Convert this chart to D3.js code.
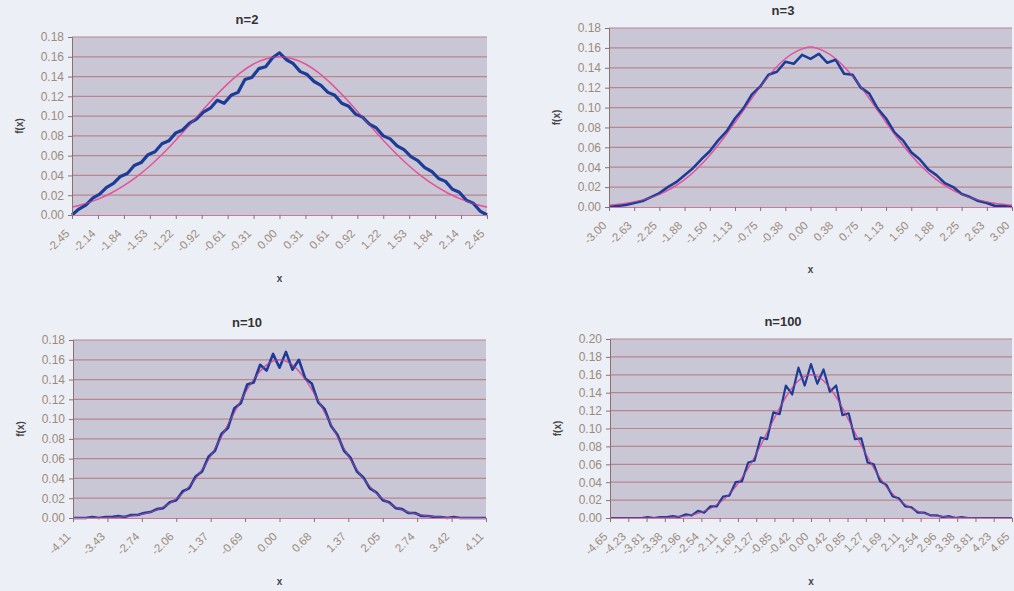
<!DOCTYPE html>
<html>
<head>
<meta charset="utf-8">
<script src="https://cdn.jsdelivr.net/npm/d3@7"></script>
<style>
  body { margin: 0; background: #edeff7; }
  svg { display: block; font-family: "Liberation Sans", Arial, sans-serif; }
</style>
</head>
<body>
<svg id="chart" width="1014" height="591"></svg>
<script>
// tick labels of each category axis
const labels2 = ["-2.45","-2.14","-1.84","-1.53","-1.22","-0.92","-0.61","-0.31","0.00","0.31","0.61","0.92","1.22","1.53","1.84","2.14","2.45"];
const labels3 = ["-3.00","-2.63","-2.25","-1.88","-1.50","-1.13","-0.75","-0.38","0.00","0.38","0.75","1.13","1.50","1.88","2.25","2.63","3.00"];
const labels10 = ["-4.11","-3.43","-2.74","-2.06","-1.37","-0.69","0.00","0.68","1.37","2.05","2.74","3.42","4.11"];
const labels100 = ["-4.65","-4.23","-3.81","-3.38","-2.96","-2.54","-2.11","-1.69","-1.27","-0.85","-0.42","0.00","0.42","0.85","1.27","1.69","2.11","2.54","2.96","3.38","3.81","4.23","4.65"];

// simulated f(x) (evenly spaced along the axis)
const sim2 = [0.000,0.006,0.010,0.017,0.021,0.028,0.032,0.039,0.042,0.050,0.053,0.061,0.064,0.072,0.075,0.083,0.086,0.093,0.097,0.104,0.108,0.116,0.113,0.121,0.124,0.137,0.139,0.148,0.150,0.159,0.164,
  0.157,0.153,0.145,0.142,0.135,0.131,0.124,0.121,0.113,0.110,0.102,0.099,0.092,0.088,0.080,0.077,0.070,0.066,0.059,0.055,0.048,0.044,0.037,0.034,0.026,0.023,0.015,0.012,0.004,0.000];
const sim3 = [0.000,0.001,0.002,0.004,0.006,0.010,0.014,0.020,0.025,0.032,0.039,0.048,0.056,0.067,0.076,0.089,0.099,0.113,0.121,0.133,0.136,0.146,0.144,0.153,0.149,
  0.154,0.145,0.148,0.134,0.133,0.120,0.114,0.099,0.089,0.075,0.067,0.055,0.048,0.038,0.032,0.024,0.020,0.013,0.010,0.006,0.004,0.001,0.001,0.000];
const sim10 = [0.000,0.000,0.000,0.001,0.000,0.001,0.001,0.002,0.001,0.003,0.003,0.005,0.006,0.009,0.010,0.016,0.018,0.027,0.030,0.042,0.047,0.062,0.068,0.085,0.091,0.111,0.116,0.135,0.137,0.155,0.149,0.166,0.152,
  0.168,0.150,0.160,0.141,0.136,0.117,0.110,0.093,0.084,0.068,0.061,0.047,0.041,0.030,0.026,0.018,0.016,0.010,0.009,0.005,0.005,0.002,0.002,0.001,0.001,0.000,0.001,0.000,0.000,0.000,0.000,0.000];
const sim100 = [0.000,0.000,0.000,0.000,0.000,0.000,0.001,0.000,0.001,0.001,0.002,0.001,0.004,0.003,0.008,0.006,0.013,0.013,0.024,0.025,0.040,0.041,0.062,0.064,0.090,0.088,0.118,0.116,0.148,0.138,0.168,0.148,0.172,
  0.150,0.166,0.141,0.148,0.115,0.117,0.088,0.089,0.062,0.060,0.041,0.037,0.024,0.022,0.013,0.012,0.006,0.006,0.003,0.003,0.001,0.002,0.000,0.001,0.000,0.000,0.000,0.000,0.000,0.000,0.000,0.000];

// normal curve
const norm2 = [0.0080,0.0114,0.0161,0.0220,0.0296,0.0388,0.0496,0.0619,0.0756,0.0901,0.1049,0.1193,0.1326,0.1440,0.1527,0.1581,0.1600,
  0.1581,0.1527,0.1440,0.1326,0.1193,0.1049,0.0901,0.0756,0.0619,0.0496,0.0388,0.0296,0.0220,0.0161,0.0114,0.0080];
const norm3 = [0.0018,0.0031,0.0051,0.0082,0.0127,0.0191,0.0276,0.0385,0.0520,0.0676,0.0850,0.1031,0.1208,0.1366,0.1491,0.1572,0.1610,
  0.1572,0.1491,0.1366,0.1208,0.1031,0.0850,0.0676,0.0520,0.0385,0.0276,0.0191,0.0127,0.0082,0.0051,0.0031,0.0018];
const norm10 = [0.0000,0.0001,0.0002,0.0006,0.0014,0.0030,0.0059,0.0111,0.0194,0.0318,0.0488,0.0702,0.0944,0.1188,0.1402,0.1548,0.1600,
  0.1548,0.1402,0.1188,0.0944,0.0702,0.0488,0.0318,0.0194,0.0111,0.0059,0.0030,0.0014,0.0006,0.0002,0.0001,0.0000];
const norm100 = [0.0000,0.0000,0.0000,0.0001,0.0004,0.0010,0.0023,0.0052,0.0107,0.0202,0.0350,0.0557,0.0813,0.1094,0.1352,0.1534,0.1600,
  0.1534,0.1352,0.1094,0.0813,0.0557,0.0350,0.0202,0.0107,0.0052,0.0023,0.0010,0.0004,0.0001,0.0000,0.0000,0.0000];

const panels = [
  {title: "n=2",   labels: labels2,   sim: sim2,   norm: norm2,   yMax: 0.18, simWidth: 3.2,
   box: {l: 72,  t: 37,  r: 487,  b: 215}, titleX: 247, titleY: 24,  xLabY: 282},
  {title: "n=3",   labels: labels3,   sim: sim3,   norm: norm3,   yMax: 0.18, simWidth: 2.6,
   box: {l: 609, t: 28,  r: 1012, b: 207}, titleX: 783, titleY: 15,  xLabY: 273},
  {title: "n=10",  labels: labels10,  sim: sim10,  norm: norm10,  yMax: 0.18, simWidth: 2.6,
   box: {l: 73,  t: 340, r: 486,  b: 518}, titleX: 247, titleY: 327, xLabY: 585},
  {title: "n=100", labels: labels100, sim: sim100, norm: norm100, yMax: 0.20, simWidth: 2.2,
   box: {l: 610, t: 339, r: 1012, b: 518}, titleX: 783, titleY: 326, xLabY: 585}
];

const svg = d3.select("#chart");
const textCol = "#9b8b7b";

panels.forEach(function(p){
  const bx = p.box;
  const g = svg.append("g");

  const y = d3.scaleLinear().domain([0, p.yMax]).range([bx.b, bx.t]);
  const xLab = d3.scalePoint().domain(p.labels).range([bx.l, bx.r]);
  const xSim = d3.scaleLinear().domain([0, p.sim.length - 1]).range([bx.l, bx.r]);
  const xNorm = d3.scaleLinear().domain([0, p.norm.length - 1]).range([bx.l, bx.r]);

  // plot area
  g.append("rect")
    .attr("x", bx.l).attr("y", bx.t)
    .attr("width", bx.r - bx.l).attr("height", bx.b - bx.t)
    .attr("fill", "#c9c7d6");

  // gridlines
  const yTicks = d3.range(0, p.yMax + 0.0001, 0.02);
  g.selectAll(".grid")
    .data(yTicks.slice(1))
    .join("line")
      .attr("x1", bx.l).attr("x2", bx.r)
      .attr("y1", d => y(d)).attr("y2", d => y(d))
      .attr("stroke", "#b8868e")
      .attr("stroke-width", 1.2);

  // curves
  const lineSim = d3.line().x((d, i) => xSim(i)).y(d => y(d));
  const lineNorm = d3.line().x((d, i) => xNorm(i)).y(d => y(d)).curve(d3.curveMonotoneX);

  g.append("path")
    .attr("d", lineNorm(p.norm))
    .attr("fill", "none")
    .attr("stroke", "#e2559c")
    .attr("stroke-width", 1.5);

  g.append("path")
    .attr("d", lineSim(p.sim))
    .attr("fill", "none")
    .attr("stroke", "#1c3c98")
    .attr("stroke-width", p.simWidth)
    .attr("stroke-linejoin", "round");

  g.append("path")
    .attr("d", lineNorm(p.norm))
    .attr("fill", "none")
    .attr("stroke", "#e2559c")
    .attr("stroke-opacity", 0.6)
    .attr("stroke-width", 1);

  // y axis
  const yAxis = g.append("g")
    .attr("transform", `translate(${bx.l},0)`)
    .call(d3.axisLeft(y).tickValues(yTicks).tickFormat(d3.format(".2f")).tickSize(4));
  yAxis.select(".domain").attr("stroke", "#8b7070");
  yAxis.selectAll(".tick line").attr("stroke", "#8b7070");
  yAxis.selectAll("text")
    .attr("fill", textCol)
    .style("font-size", "12px")
    .attr("x", -8);

  // x axis
  const xAxis = g.append("g")
    .attr("transform", `translate(0,${bx.b})`)
    .call(d3.axisBottom(xLab).tickSize(4).tickSizeOuter(0));
  xAxis.select(".domain").attr("stroke", "#c97a9a");
  xAxis.selectAll(".tick line").attr("stroke", "#8b7070");
  xAxis.selectAll("text")
    .attr("fill", textCol)
    .style("font-size", "11.5px")
    .attr("text-anchor", "end")
    .attr("transform", "rotate(-45)")
    .attr("x", -15)
    .attr("y", 8)
    .attr("dy", "0.35em");

  // titles
  g.append("text")
    .attr("x", p.titleX)
    .attr("y", p.titleY)
    .attr("text-anchor", "middle")
    .style("font-size", "13px")
    .style("font-weight", "bold")
    .attr("fill", "#333")
    .text(p.title);

  g.append("text")
    .attr("x", xLab(p.labels[Math.floor(p.labels.length / 2)]))
    .attr("y", p.xLabY)
    .attr("text-anchor", "middle")
    .style("font-size", "10px")
    .style("font-weight", "bold")
    .attr("fill", "#444")
    .text("x");

  g.append("text")
    .attr("transform", `translate(${bx.l - 49},${(bx.t + bx.b) / 2}) rotate(-90)`)
    .attr("text-anchor", "middle")
    .style("font-size", "10px")
    .style("font-weight", "bold")
    .attr("fill", "#444")
    .text("f(x)");
});
</script>
</body>
</html>
